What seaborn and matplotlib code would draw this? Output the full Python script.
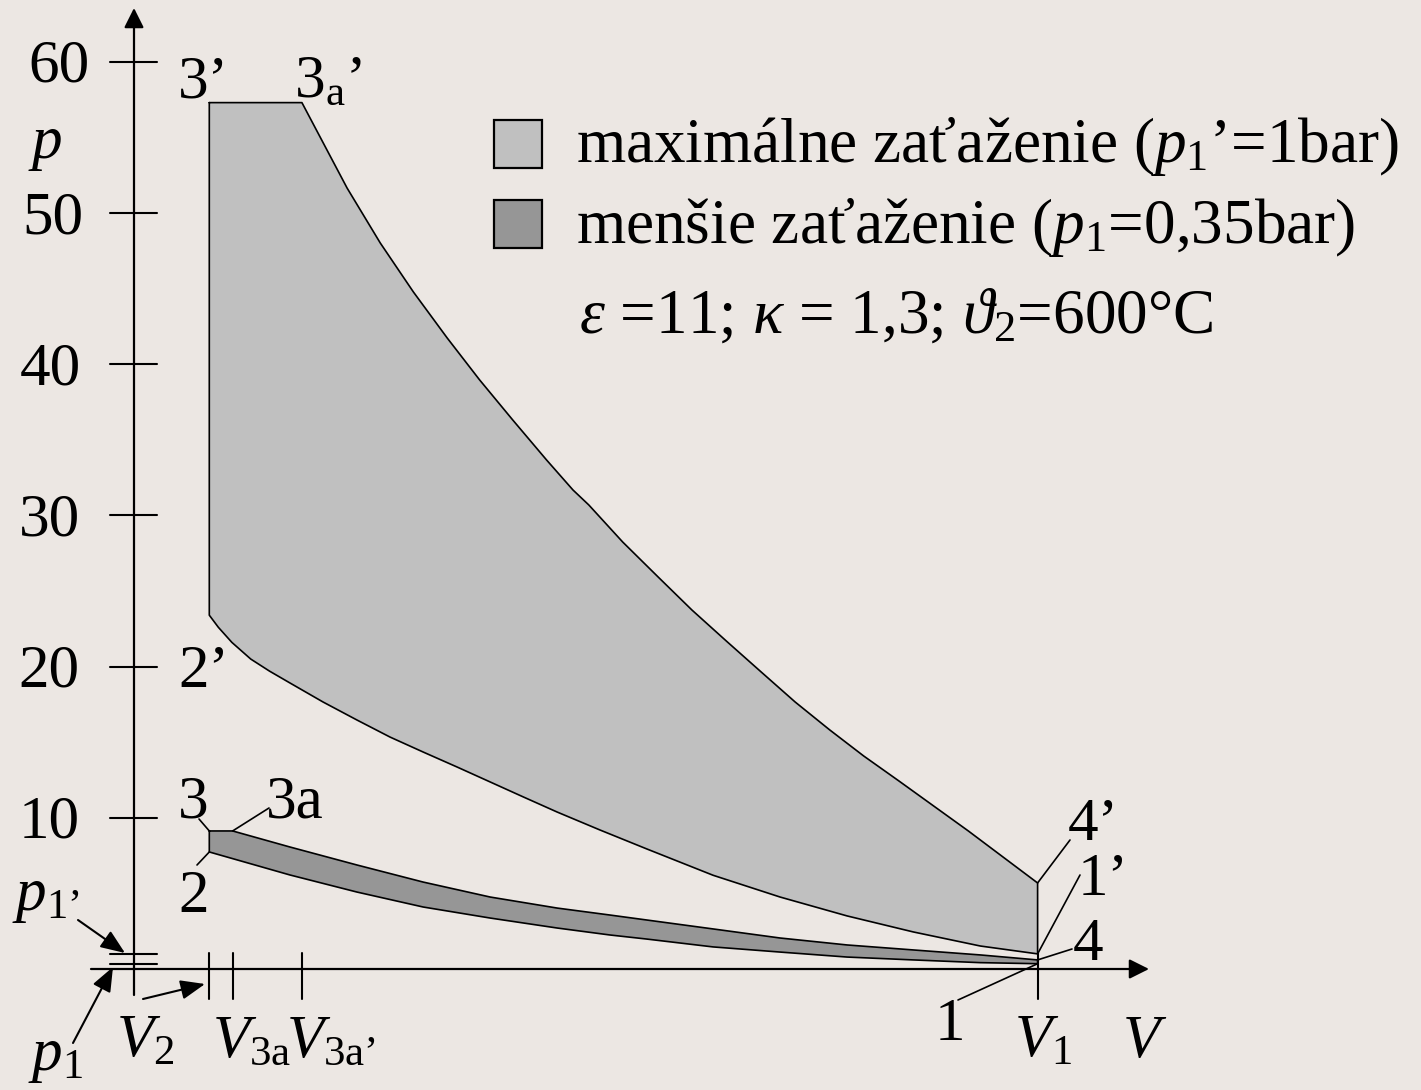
import matplotlib
matplotlib.use("Agg")
import numpy as np
import pandas as pd
import matplotlib.pyplot as plt
import matplotlib.transforms as mtransforms
from matplotlib.patches import Rectangle
import seaborn as sns

# ---------------------------------------------------------------
# Otto cycle in the p-V plane, V in multiples of V2, p in bar
# ---------------------------------------------------------------
# characteristic volumes
V2, V3a, V3a_full, V1 = 1.0, 1.31, 2.23, 12.0

# full load (p1' = 1 bar): expansion 3a' -> 4', compression 2' -> 1'
V_full_exp = [2.23, 2.83, 3.27, 3.71, 4.16, 4.59, 5.03, 5.48, 5.83, 6.04, 6.49, 6.96,
              7.41, 7.88, 8.33, 8.78, 9.24, 9.69, 10.16, 10.62, 11.08, 11.54, 12.0]
p_full_exp = [57.3, 51.65, 48.02, 44.78, 41.73, 38.96, 36.31, 33.66, 31.68, 30.69, 28.24, 25.93,
              23.74, 21.63, 19.64, 17.66, 15.81, 14.09, 12.43, 10.78, 9.13, 7.41, 5.69]
V_full_comp = [1.0, 1.12, 1.3, 1.55, 1.8, 2.07, 2.51, 2.96, 3.40, 3.84, 4.29, 4.73, 5.17,
               5.62, 6.19, 6.81, 7.69, 8.58, 9.47, 10.35, 11.24, 12.0]
p_full_comp = [23.4, 22.6, 21.6, 20.5, 19.7, 18.92, 17.66, 16.47, 15.34, 14.35, 13.36, 12.37, 11.38,
               10.38, 9.19, 7.94, 6.2, 4.76, 3.51, 2.45, 1.52, 1.0]

# part load (p1 = 0,35 bar): expansion 3a -> 4, compression 2 -> 1
V_part_exp = [1.31, 2.07, 2.96, 3.84, 4.73, 5.62, 6.32, 6.81, 7.69, 8.58, 9.47, 10.35, 11.24, 12.0]
p_part_exp = [9.13, 8.07, 6.88, 5.75, 4.76, 4.03, 3.57, 3.24, 2.65, 2.05, 1.59, 1.26, 0.93, 0.60]
V_part_comp = [1.0, 2.07, 2.96, 3.84, 4.73, 5.62, 6.32, 6.81, 7.69, 8.58, 9.47, 10.35, 11.24, 12.0]
p_part_comp = [7.74, 6.22, 5.09, 4.10, 3.37, 2.71, 2.25, 1.98, 1.46, 1.12, 0.79, 0.60, 0.42, 0.35]

p3_full, p3_part = 57.3, 9.13
p1_full, p1_part = 1.0, 0.35

y_ticks = [10, 20, 30, 40, 50, 60]
y_tick_labels = ["10", "20", "30", "40", "50", "60"]

legend_labels = ["maximálne zaťaženie ($p_1$’=1bar)",
                 "menšie zaťaženie ($p_1$=0,35bar)"]
params_text = "$\\varepsilon$ =11; $\\kappa$ = 1,3; $\\vartheta_2$=600°C"

# ---------------------------------------------------------------
BG = "#ECE7E3"
LIGHT = "#C0C0C0"
DARK = "#969696"
FS = 44
FS_LEG = 45.5

sns.set_theme(style="white")
plt.rcParams["font.family"] = ["Liberation Serif", "DejaVu Serif"]
plt.rcParams["text.color"] = "black"
plt.rcParams["mathtext.fontset"] = "custom"
plt.rcParams["mathtext.rm"] = "Liberation Serif"
plt.rcParams["mathtext.it"] = "Liberation Serif:italic"
plt.rcParams["mathtext.fallback"] = "stix"

W, H = 1421, 1090
XLIM = (-134 / 75.3, (W - 134) / 75.3)
YLIM = ((969 - H) / 15.12, 969 / 15.12)

fig = plt.figure(figsize=(W / 100, H / 100), dpi=100, facecolor=BG)
ax = fig.add_axes([0, 0, 1, 1])
ax.set_facecolor(BG)

# pixel coordinates measured from the top-left corner
PX = mtransforms.Affine2D().scale(1 / W, -1 / H).translate(0, 1) + fig.transFigure
PXY = mtransforms.blended_transform_factory(PX, ax.transData)   # x in px, y in bar
VPX = mtransforms.blended_transform_factory(ax.transData, PX)   # x in V, y in px


def cycle_frame(p3, V_exp, p_exp, V_comp, p_comp):
    V = [V2] + list(V_exp) + list(V_comp[::-1]) + [V2]
    p = [p3] + list(p_exp) + list(p_comp[::-1]) + [p3]
    return pd.DataFrame({"V": V, "p": p})


full = cycle_frame(p3_full, V_full_exp, p_full_exp, V_full_comp, p_full_comp)
part = cycle_frame(p3_part, V_part_exp, p_part_exp, V_part_comp, p_part_comp)

for df, col in [(full, LIGHT), (part, DARK)]:
    ax.fill(df["V"], df["p"], color=col, lw=0, zorder=2)
    sns.lineplot(data=df, x="V", y="p", sort=False, estimator=None,
                 color="black", lw=1.2, ax=ax, zorder=3)
ax.set_xlim(*XLIM)
ax.set_ylim(*YLIM)
ax.axis("off")

# ---------------- axes with arrows ----------------
big_arrow = dict(arrowstyle="-|>,head_length=0.4,head_width=0.2", mutation_scale=30,
                 color="black", lw=1.6, shrinkA=0, shrinkB=0)
ax.annotate("", xy=(0, 8), xytext=(0, 995), xycoords=VPX, textcoords=VPX, arrowprops=big_arrow)
ax.annotate("", xy=(1149, 0), xytext=(91, 0), xycoords=PXY, textcoords=PXY, arrowprops=big_arrow)

# p ticks and labels
label_x = {10: 49, 20: 49, 30: 49, 40: 50, 50: 53, 60: 59}
lab_trans = mtransforms.blended_transform_factory(
    PX, ax.transData + mtransforms.ScaledTranslation(0, -0.20, fig.dpi_scale_trans))
for t, s in zip(y_ticks, y_tick_labels):
    ax.plot([110, 157], [t, t], color="black", lw=1.5, transform=PXY, zorder=4)
    ax.text(label_x[t], t, s, transform=lab_trans, ha="center", va="baseline", fontsize=FS)

# p1', p1 marks
for pv in (p1_full, p1_part):
    ax.plot([110, 157], [pv, pv], color="black", lw=1.5, transform=PXY, zorder=4)

# V ticks
for vv in (V2, V3a, V3a_full, V1):
    ax.plot([vv, vv], [953, 999], color="black", lw=1.5, transform=VPX, zorder=4)


def txt(x, y, s, fs=FS, **kw):
    ax.text(x, y, s, transform=PX, ha="left", va="baseline", fontsize=fs, **kw)


def leader(x, y, V, p):
    ax.annotate("", xy=(V, p), xycoords="data", xytext=(x, y), textcoords=PX,
                arrowprops=dict(arrowstyle="-", lw=1.2, color="black", shrinkA=0, shrinkB=0),
                zorder=5)


def pointer(x0, y0, x1, y1):
    ax.annotate("", xy=(x1, y1), xytext=(x0, y0), xycoords=PX, textcoords=PX,
                arrowprops=dict(arrowstyle="-|>,head_length=0.55,head_width=0.22",
                                mutation_scale=27, lw=1.5, color="black",
                                shrinkA=0, shrinkB=0))


# axis names
txt(28, 158, "$p$")
txt(1122, 1057, "$V$")
txt(116, 1057, "$V_2$")
txt(212, 1057, "$V_{\\mathrm{3a}}$")
txt(286, 1057, "$V_{\\mathrm{3a’}}$")
txt(1014, 1057, "$V_1$")
txt(12, 910, "$p_{\\mathrm{1’}}$")
txt(28, 1070, "$p_1$")

# pointers for p1', p1, V2
pointer(78, 920, 125, 953)
pointer(73, 1043, 113, 967)
pointer(143, 999, 205, 984)

# state point labels
txt(178, 97, "3’")
txt(294, 97, "3$_{\\mathrm{a}}$’")
txt(178, 687, "2’")
txt(178, 817, "3")
txt(266, 817, "3a")
txt(178, 912, "2")
txt(1068, 840, "4’")
txt(1078, 895, "1’")
txt(1073, 960, "4")
txt(935, 1040, "1")

leader(199, 819, V2, p3_part)
leader(269, 808, V_part_exp[0], p_part_exp[0])
leader(197, 865, V_part_comp[0], p_part_comp[0])
leader(1070, 840, V_full_exp[-1], p_full_exp[-1])
leader(1080, 875, V_full_comp[-1], p_full_comp[-1])
leader(1072, 949, V_part_exp[-1], p_part_exp[-1])
leader(958, 1000, V_part_comp[-1], p_part_comp[-1])

# legend
for (y0, col), lab, base in zip([(120, LIGHT), (200, DARK)], legend_labels, [162, 243]):
    ax.add_patch(Rectangle((494, y0 + 48), 48, -48, transform=PX, facecolor=col,
                           edgecolor="black", lw=1.6, zorder=6))
    txt(576, base, lab, fs=FS_LEG)
txt(579, 333, params_text, fs=FS_LEG)

fig.savefig("out.png", dpi=100, facecolor=BG)
